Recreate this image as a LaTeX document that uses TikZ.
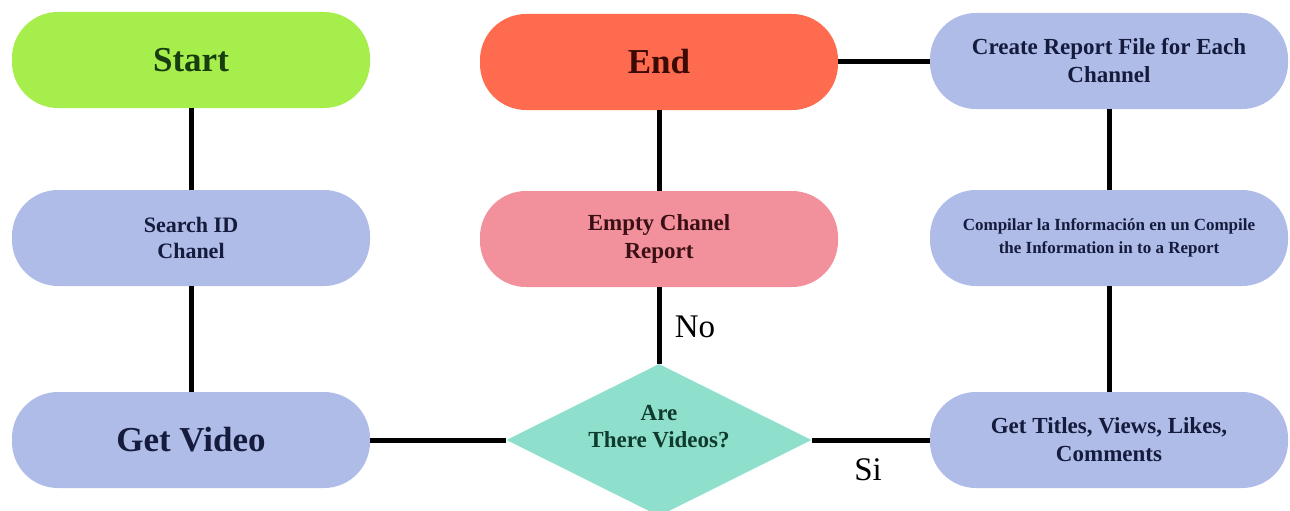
\documentclass[tikz,border=0pt]{standalone}
\usepackage{fontspec}
\setmainfont{Liberation Serif}
\usetikzlibrary{shapes.geometric}
\definecolor{cgreen}{HTML}{A6EE4C}
\definecolor{cgreentx}{HTML}{173D10}
\definecolor{cred}{HTML}{FF6B4E}
\definecolor{credtx}{HTML}{3C0A05}
\definecolor{cpink}{HTML}{F2909C}
\definecolor{cpinktx}{HTML}{3A1015}
\definecolor{cblue}{HTML}{B0BCE8}
\definecolor{cbluetx}{HTML}{141B3C}
\definecolor{cteal}{HTML}{8EDFCB}
\definecolor{ctealtx}{HTML}{0F3A2E}
\tikzset{
  pill/.style={rectangle, rounded corners=46pt, minimum width=358pt, minimum height=96pt,
    inner sep=2pt, align=center, font=\bfseries\fontsize{23}{28}\selectfont},
  bigtx/.style={font=\bfseries\fontsize{35}{40}\selectfont},
  bluepill/.style={pill, fill=cblue, text=cbluetx},
  decision/.style={diamond, aspect=2, inner sep=0pt, minimum width=305pt, minimum height=152pt, fill=cteal},
  qtext/.style={align=center, text=ctealtx, font=\bfseries\fontsize{23}{27}\selectfont},
  link/.style={line width=5pt, draw=black},
  edgelabel/.style={font=\fontsize{33}{38}\selectfont, text=black}
}
\begin{document}
\begin{tikzpicture}[x=1pt,y=-1pt]
\useasboundingbox (0,0) rectangle (1290,511);
\node[pill, bigtx, fill=cgreen, text=cgreentx] (start) at (191,60) {Start};
\node[bluepill, font=\bfseries\fontsize{22}{26}\selectfont] (search) at (191,238) {Search ID\\Chanel};
\node[bluepill, bigtx] (getvideo) at (191,440) {Get Video};
\node[pill, bigtx, fill=cred, text=credtx] (end) at (659,62) {End};
\node[pill, fill=cpink, text=cpinktx] (empty) at (659,239) {Empty Chanel\\Report};
\node[decision] (q) at (659,440) {};
\node[qtext] (qlabel) at ([yshift=13pt]q.center) {Are\\There Videos?};
\node[bluepill] (create) at (1109,61) {Create Report File for Each\\Channel};
\node[bluepill, font=\bfseries\fontsize{17}{23}\selectfont] (compile) at (1109,238) {Compilar la Información en un Compile\\the Information in to a Report};
\node[bluepill] (titles) at (1109,440) {Get Titles, Views, Likes,\\Comments};

\draw[link] (start.south) -- (search.north);
\draw[link] (search.south) -- (getvideo.north);
\draw[link] (getvideo.east) -- (q.west);
\draw[link] (q.east) -- (titles.west);
\draw[link] (titles.north) -- (compile.south);
\draw[link] (compile.north) -- (create.south);
\draw[link] (end.east) -- (end.east -| create.west);
\draw[link] (end.south) -- (empty.north);
\draw[link] (empty.south) -- (q.north);

\node[edgelabel] (nolabel) at (695,327) {No};
\node[edgelabel] (silabel) at (868,470) {Si};
\end{tikzpicture}
\end{document}
